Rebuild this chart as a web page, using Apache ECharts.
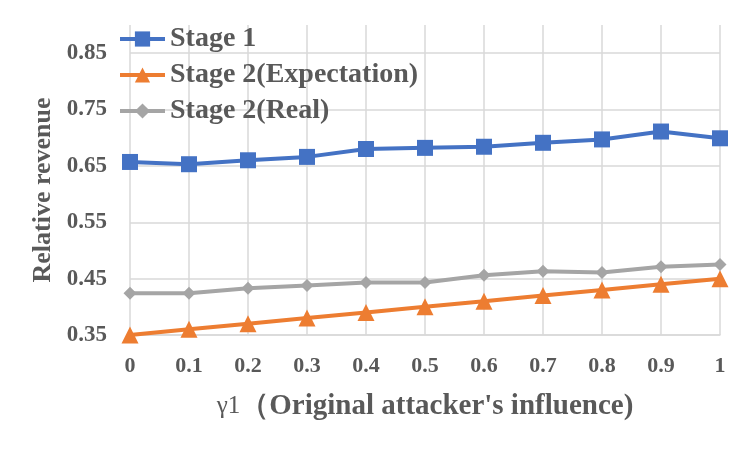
<!DOCTYPE html>
<html>
<head>
<meta charset="utf-8">
<script src="https://cdn.jsdelivr.net/npm/echarts@6/dist/echarts.min.js"></script>
<style>
  html, body { margin: 0; padding: 0; background: #fff; }
  #chart { width: 750px; height: 450px; }
</style>
</head>
<body>
<div id="chart"></div>
<script>
// gamma1 values on the x axis
const categories = ['0', '0.1', '0.2', '0.3', '0.4', '0.5', '0.6', '0.7', '0.8', '0.9', '1'];

const stage1 = [0.657, 0.653, 0.660, 0.666, 0.680, 0.682, 0.684, 0.691, 0.697, 0.711, 0.699];
const stage2Expect = [0.35, 0.36, 0.37, 0.38, 0.39, 0.40, 0.41, 0.42, 0.43, 0.44, 0.45];
const stage2Real = [0.424, 0.424, 0.433, 0.438, 0.443, 0.443, 0.456, 0.463, 0.461, 0.471, 0.475];

const seriesNames = ['Stage 1', 'Stage 2(Expectation)', 'Stage 2(Real)'];

const font = 'Liberation Serif';
const textColor = '#595959';
const gridColor = '#d9d9d9';

const chart = echarts.init(document.getElementById('chart'));
const option = {
    animation: false,
    backgroundColor: '#fff',
    legend: {
        data: seriesNames,
        orient: 'vertical',
        left: 118,
        top: 25,
        itemWidth: 45,
        itemHeight: 19,
        itemGap: 8,
        padding: 0,
        lineStyle: { width: 4 },
        textStyle: {
            fontFamily: font,
            fontWeight: 'bold',
            fontSize: 28,
            color: textColor
        }
    },
    grid: {
        left: 130,
        right: 30,
        top: 25,
        bottom: 115
    },
    xAxis: {
        type: 'category',
        data: categories,
        boundaryGap: false,
        name: '{g|γ1}{t|（Original attacker\'s influence)}',
        nameLocation: 'middle',
        nameGap: 57,
        nameTextStyle: {
            rich: {
                g: { fontFamily: font, fontSize: 25, color: textColor },
                t: { fontFamily: font, fontSize: 29, fontWeight: 'bold', color: textColor }
            }
        },
        axisLine: { lineStyle: { color: gridColor, width: 1.5 } },
        axisTick: { show: false },
        axisLabel: {
            fontFamily: font,
            fontWeight: 'bold',
            fontSize: 22,
            color: textColor,
            margin: 20
        },
        splitLine: {
            show: true,
            lineStyle: { color: gridColor, width: 1.5 }
        }
    },
    yAxis: {
        type: 'value',
        min: 0.35,
        max: 0.9,
        interval: 0.05,
        name: 'Relative revenue',
        nameLocation: 'middle',
        nameGap: 70,
        nameTextStyle: {
            fontFamily: font,
            fontWeight: 'bold',
            fontSize: 26,
            color: textColor,
            padding: [0, 20, 0, 0]
        },
        axisLine: { show: false },
        axisTick: { show: false },
        axisLabel: {
            fontFamily: font,
            fontWeight: 'bold',
            fontSize: 23,
            color: textColor,
            margin: 23,
            formatter: function (v) {
                return Math.round(v * 100) % 10 === 5 ? v.toFixed(2) : '';
            }
        },
        splitLine: {
            lineStyle: { color: [gridColor, 'transparent'], width: 1.5 }
        }
    },
    series: [
        {
            name: seriesNames[0],
            type: 'line',
            data: stage1,
            symbol: 'rect',
            symbolSize: 16,
            lineStyle: { width: 4, color: '#4472C4' },
            itemStyle: { color: '#4472C4' }
        },
        {
            name: seriesNames[1],
            type: 'line',
            data: stage2Expect,
            symbol: 'triangle',
            symbolSize: 17,
            lineStyle: { width: 4, color: '#ED7D31' },
            itemStyle: { color: '#ED7D31' }
        },
        {
            name: seriesNames[2],
            type: 'line',
            data: stage2Real,
            symbol: 'diamond',
            symbolSize: 13,
            lineStyle: { width: 4, color: '#A5A5A5' },
            itemStyle: { color: '#A5A5A5' }
        }
    ]
};
chart.setOption(option);
</script>
</body>
</html>
